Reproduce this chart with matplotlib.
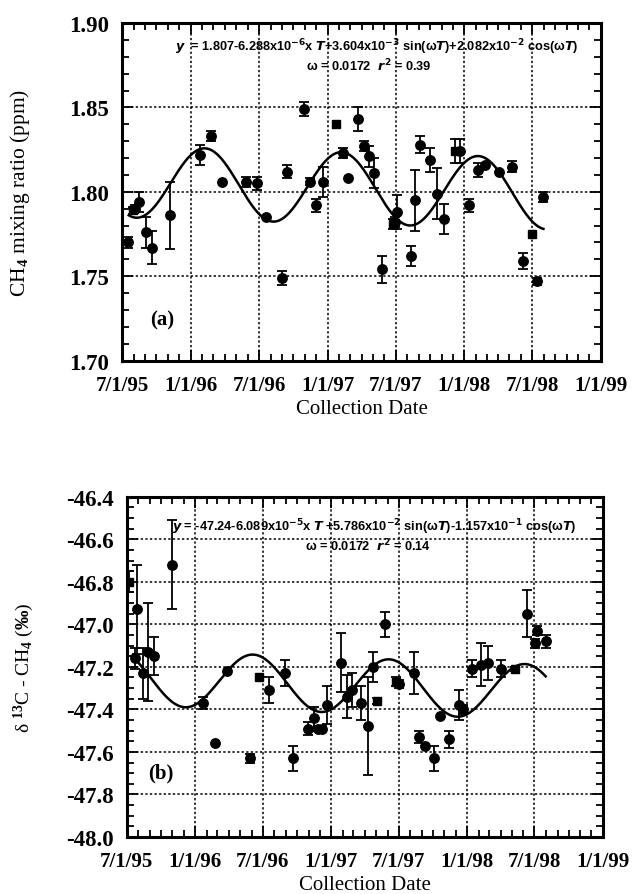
import numpy as np
import matplotlib
matplotlib.use("Agg")
import matplotlib.pyplot as plt
import matplotlib.dates as mdates

plt.rcParams['font.family'] = ['Liberation Serif', 'DejaVu Serif']
plt.rcParams['font.weight'] = 'bold'
plt.rcParams['axes.unicode_minus'] = False
plt.rcParams['mathtext.fontset'] = 'custom'
plt.rcParams['mathtext.rm'] = 'Liberation Serif:bold'
plt.rcParams['mathtext.it'] = 'Liberation Serif:italic:bold'
plt.rcParams['mathtext.bf'] = 'Liberation Serif:bold'

# ---- panel (a): CH4 mixing ratio ----
ch4_dates = ["1995-07-18", "1995-07-31", "1995-08-06", "1995-08-15", "1995-09-03",
             "1995-09-18", "1995-11-06", "1996-01-25", "1996-02-25", "1996-03-23",
             "1996-05-27", "1996-06-25", "1996-07-21", "1996-09-01", "1996-09-15",
             "1996-10-30", "1996-11-14", "1996-11-30", "1996-12-20", "1997-01-24",
             "1997-02-11", "1997-02-24", "1997-03-22", "1997-04-08", "1997-04-21",
             "1997-05-05", "1997-05-26", "1997-06-25", "1997-06-29", "1997-07-04",
             "1997-08-10", "1997-08-23", "1997-09-04", "1997-10-01", "1997-10-19",
             "1997-11-08", "1997-12-06", "1997-12-20", "1998-01-14", "1998-02-07",
             "1998-02-25", "1998-04-03", "1998-05-07", "1998-06-07", "1998-06-30",
             "1998-07-13", "1998-07-31"]
ch4_ppm = [1.770, 1.789, 1.790, 1.794, 1.776, 1.767, 1.786, 1.822, 1.833, 1.806,
           1.806, 1.805, 1.785, 1.749, 1.812, 1.849, 1.806, 1.792, 1.806, 1.840,
           1.823, 1.808, 1.843, 1.827, 1.821, 1.811, 1.754, 1.781, 1.782, 1.788,
           1.762, 1.795, 1.828, 1.819, 1.799, 1.784, 1.824, 1.824, 1.792, 1.813,
           1.816, 1.812, 1.815, 1.759, 1.775, 1.747, 1.797]
ch4_err = [0.003, 0.002, 0.002, 0.006, 0.009, 0.010, 0.020, 0.006, 0.003, 0,
           0.003, 0.004, 0, 0.004, 0.004, 0.004, 0.002, 0.004, 0.009, 0,
           0.003, 0, 0.007, 0.003, 0.006, 0.009, 0.008, 0.003, 0.003, 0.010,
           0.006, 0.018, 0.005, 0.007, 0.015, 0.009, 0.007, 0.007, 0.004, 0.004,
           0, 0, 0.003, 0.005, 0, 0.002, 0.003]
ch4_squares = [1, 19, 27, 36, 44]

# ---- panel (b): delta 13C of CH4 ----
d13c_dates = ["1995-07-07", "1995-07-23", "1995-07-28", "1995-08-15", "1995-08-28",
              "1995-09-12", "1995-11-01", "1996-01-23", "1996-02-24", "1996-03-26",
              "1996-05-27", "1996-06-20", "1996-07-18", "1996-08-30", "1996-09-19",
              "1996-10-29", "1996-11-15", "1996-11-27", "1996-12-06", "1996-12-21",
              "1997-01-26", "1997-02-12", "1997-02-26", "1997-03-23", "1997-04-10",
              "1997-04-23", "1997-05-05", "1997-05-25", "1997-06-25", "1997-07-02",
              "1997-08-11", "1997-08-25", "1997-09-09", "1997-10-03", "1997-10-20",
              "1997-11-13", "1997-12-10", "1997-12-21", "1998-01-14", "1998-02-07",
              "1998-02-25", "1998-04-03", "1998-05-11", "1998-06-10", "1998-07-02",
              "1998-07-09", "1998-07-31"]
d13c_val = [-46.80, -47.16, -46.93, -47.23, -47.13, -47.15, -46.72, -47.37, -47.56, -47.22,
            -47.63, -47.25, -47.31, -47.23, -47.63, -47.49, -47.44, -47.49, -47.49, -47.38,
            -47.18, -47.34, -47.31, -47.37, -47.48, -47.20, -47.36, -47.00, -47.27, -47.28,
            -47.23, -47.53, -47.57, -47.63, -47.43, -47.54, -47.38, -47.40, -47.21, -47.19,
            -47.18, -47.21, -47.21, -46.95, -47.09, -47.03, -47.08]
d13c_err = [0.05, 0.05, 0.21, 0.12, 0.23, 0.09, 0.21, 0.03, 0, 0,
            0.02, 0, 0.06, 0.06, 0.06, 0.03, 0.05, 0.01, 0.01, 0.09,
            0.14, 0.10, 0.08, 0.08, 0.23, 0.07, 0.015, 0.06, 0.02, 0.02,
            0.10, 0.03, 0, 0.06, 0, 0.04, 0.07, 0.02, 0.04, 0.10,
            0.08, 0.04, 0.01, 0.11, 0.02, 0.02, 0.03]
d13c_squares = [0, 11, 26, 28, 42]

# fitted curves as printed on the figure: y = c + b*T + s*sin(wT) + k*cos(wT)
omega = 0.0172
ch4_fit = (1.807, -6.288e-6, 3.604e-3, 2.082e-2)
d13c_fit = (-47.24, -6.089e-5, 5.786e-2, -1.157e-1)
ch4_fit_t0, ch4_fit_range = "1995-01-28", ("1995-07-19", "1998-07-31")
d13c_fit_t0, d13c_fit_range = "1995-01-01", ("1995-07-14", "1998-07-31")

tick_dates = ["1995-07-01", "1996-01-01", "1996-07-01", "1997-01-01",
              "1997-07-01", "1998-01-01", "1998-07-01", "1999-01-01"]
tick_labels = ["7/1/95", "1/1/96", "7/1/96", "1/1/97", "7/1/97", "1/1/98", "7/1/98", "1/1/99"]

ch4_text = [r"$\mathit{y}$  = 1.807-6.288x10$^{\mathbf{-6}}$x $\mathit{T}$+3.604x10$^{\mathbf{-3}}$ sin(ω$\mathit{T}$)+2.082x10$^{\mathbf{-2}}$ cos(ω$\mathit{T}$)",
            r"ω = 0.0172  $\mathit{r}^{\mathbf{2}}$ = 0.39"]
d13c_text = [r"$\mathit{y}$ = -47.24-6.089x10$^{\mathbf{-5}}$x $\mathit{T}$ +5.786x10$^{\mathbf{-2}}$ sin(ω$\mathit{T}$)-1.157x10$^{\mathbf{-1}}$ cos(ω$\mathit{T}$)",
             r"ω = 0.0172  $\mathit{r}^{\mathbf{2}}$ = 0.14"]


def fit_line(coef, t0, rng):
    days = np.arange(np.datetime64(rng[0]), np.datetime64(rng[1]) + 1)
    T = (days - np.datetime64(t0)).astype(float)
    c, b, s, k = coef
    return mdates.date2num(days), c + b * T + s * np.sin(omega * T) + k * np.cos(omega * T)


def panel(ax, dates, vals, errs, squares, coef, t0, rng, ylim, ystep, yminor, yfmt,
          ylabel, ylabel_size, tag, tag_pos, eqn, eqn_pos):
    x = mdates.date2num(np.array(dates, dtype="datetime64[D]"))
    vals = np.array(vals)
    errs = np.array(errs)
    has = errs > 0
    ax.errorbar(x[has], vals[has], yerr=errs[has], fmt='none', ecolor='k',
                elinewidth=1.3, capsize=3.4, capthick=1.3, zorder=3)
    circ = np.ones(len(x), bool)
    circ[squares] = False
    ax.plot(x[circ], vals[circ], 'o', color='k', ms=6.8, zorder=4)
    ax.plot(x[~circ], vals[~circ], 's', color='k', ms=6, zorder=4)
    fx, fy = fit_line(coef, t0, rng)
    ax.plot(fx, fy, color='k', lw=1.8, zorder=5)

    ax.set_xlim(mdates.date2num(np.datetime64(tick_dates[0])),
                mdates.date2num(np.datetime64(tick_dates[-1])))
    ax.set_ylim(*ylim)
    ax.set_xticks(mdates.date2num(np.array(tick_dates, dtype="datetime64[D]")))
    ax.set_xticklabels(tick_labels)
    ax.xaxis.set_minor_locator(mdates.MonthLocator())
    ax.set_yticks(np.arange(ylim[0], ylim[1] + ystep / 2, ystep))
    ax.yaxis.set_major_formatter(plt.FormatStrFormatter(yfmt))
    ax.yaxis.set_minor_locator(plt.MultipleLocator(yminor))
    ax.tick_params(which='both', direction='in', top=True, right=True, width=1.3)
    ax.tick_params(which='major', length=8)
    ax.tick_params(which='minor', length=5)
    ax.tick_params(axis='x', labelsize=15, pad=10)
    ax.tick_params(axis='y', labelsize=16.5, pad=9)
    for s in ax.spines.values():
        s.set_linewidth(2.2)
    ax.grid(True, which='major', ls=(0, (1.5, 1.5)), color='k', lw=1.1, zorder=1)
    ax.set_xlabel("Collection Date", fontsize=15, labelpad=3)
    ax.set_ylabel(ylabel, fontsize=ylabel_size)
    ax.text(tag_pos[0], tag_pos[1], tag, transform=ax.transAxes, fontsize=15,
            fontweight='bold', va='center')
    for s, (tx, ty) in zip(eqn, eqn_pos):
        ax.text(tx, ty, s, transform=ax.transAxes, ha='center', va='center',
                family='Liberation Sans', fontsize=9.2, fontweight='bold',
                math_fontfamily='dejavusans')


fig = plt.figure(figsize=(6.34, 8.95), dpi=100)
ax1 = fig.add_axes([0.1924, 0.5959, 0.7556, 0.3773])
ax2 = fig.add_axes([0.1998, 0.0637, 0.7512, 0.3802])

panel(ax1, ch4_dates, ch4_ppm, ch4_err, ch4_squares, ch4_fit, ch4_fit_t0, ch4_fit_range,
      (1.70, 1.90), 0.05, 0.01, '%.2f', r"CH$_4$ mixing ratio (ppm)", 15.5,
      "(a)", (0.058, 0.123), ch4_text, ((0.531, 0.93), (0.516, 0.876)))
panel(ax2, d13c_dates, d13c_val, d13c_err, d13c_squares, d13c_fit, d13c_fit_t0, d13c_fit_range,
      (-48.0, -46.4), 0.2, 0.05, '%.1f', r"δ $^{13}$C - CH$_4$ ($\mathit{‰}$)", 14,
      "(b)", (0.045, 0.191), d13c_text, ((0.519, 0.912), (0.506, 0.857)))
ax1.yaxis.set_label_coords(-0.188, 0.5)
ax2.yaxis.set_label_coords(-0.19, 0.5)

fig.savefig("out.png", dpi=100)
